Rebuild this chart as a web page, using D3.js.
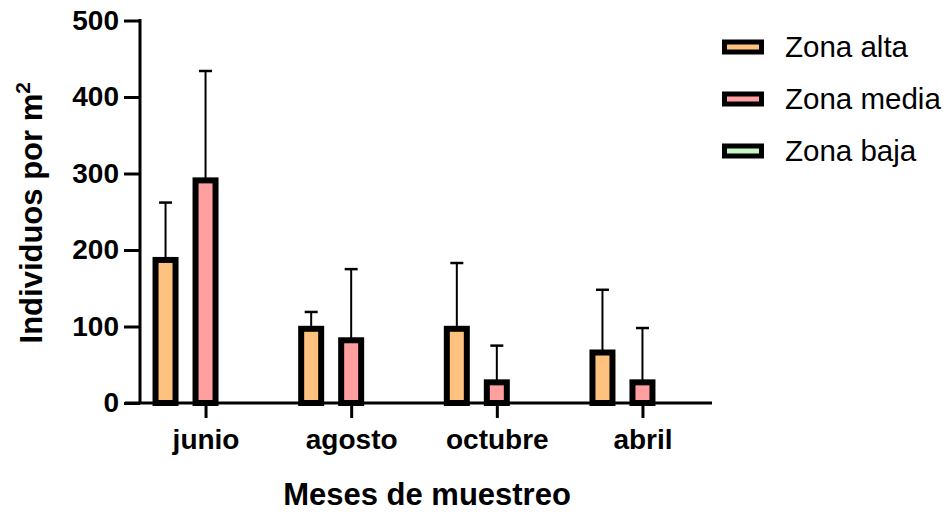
<!DOCTYPE html>
<html>
<head>
<meta charset="utf-8">
<script src="https://cdn.jsdelivr.net/npm/d3@7"></script>
<style>
  html, body { margin: 0; padding: 0; background: #fff; }
  svg { display: block; font-family: "Liberation Sans", Arial, sans-serif; }
</style>
</head>
<body>
<svg id="chart" width="949" height="514"></svg>
<script>
// ---- data ----
const months = ["junio", "agosto", "octubre", "abril"];
const seriesNames = ["Zona alta", "Zona media", "Zona baja"];
const zonaAlta = [187, 97, 97, 66];
const zonaAltaErr = [75, 22, 86, 82];
const zonaMedia = [291, 82, 27, 27];
const zonaMediaErr = [143, 93, 48, 71];
const zonaBaja = [0, 0, 0, 0];
const zonaBajaErr = [0, 0, 0, 0];
const yTicks = [0, 100, 200, 300, 400, 500];
const colors = ["#FFC17E", "#FF9F9F", "#C8F5C6"];

const seriesVals = [zonaAlta, zonaMedia, zonaBaja];
const seriesErr = [zonaAltaErr, zonaMediaErr, zonaBajaErr];

// ---- layout ----
const svg = d3.select("#chart");
const yAxisX = 140, xAxisY = 403, yTop = 20.5;
const xLineStart = 125, xLineEnd = 712;

const y = d3.scaleLinear().domain([0, 500]).range([xAxisY, yTop]);
const x = d3.scalePoint().domain(months).range([yAxisX, 708]).padding(0.45);
const sub = d3.scalePoint().domain(seriesNames).range([-40, 40]);
const barW = 20, barStroke = 6;

// bars
const data = [];
seriesNames.forEach((s, si) => {
  months.forEach((m, mi) => {
    data.push({ s, si, m, v: seriesVals[si][mi], e: seriesErr[si][mi] });
  });
});
const shown = data.filter(d => d.v > 0);

const g = svg.append("g");
// error bars
g.selectAll("line.err").data(shown).join("line")
  .attr("x1", d => x(d.m) + sub(d.s)).attr("x2", d => x(d.m) + sub(d.s))
  .attr("y1", d => y(d.v)).attr("y2", d => y(d.v + d.e))
  .attr("stroke", "#000").attr("stroke-width", 2);
g.selectAll("line.cap").data(shown).join("line")
  .attr("x1", d => x(d.m) + sub(d.s) - 6.5).attr("x2", d => x(d.m) + sub(d.s) + 6.5)
  .attr("y1", d => y(d.v + d.e)).attr("y2", d => y(d.v + d.e))
  .attr("stroke", "#000").attr("stroke-width", 2.5);

g.selectAll("rect.bar").data(shown).join("rect")
  .attr("x", d => x(d.m) + sub(d.s) - barW / 2)
  .attr("y", d => y(d.v))
  .attr("width", barW)
  .attr("height", d => y(0) - y(d.v))
  .attr("fill", d => colors[d.si])
  .attr("stroke", "#000").attr("stroke-width", barStroke);

// y axis
const yAxis = svg.append("g").attr("transform", `translate(${yAxisX},0)`)
  .call(d3.axisLeft(y).tickValues(yTicks).tickSize(16).tickSizeOuter(0).tickPadding(5));
yAxis.select(".domain").attr("stroke-width", 3).attr("d", `M0,${yTop - 1.5}V${xAxisY}`);
yAxis.selectAll(".tick line").attr("stroke-width", 3);
yAxis.selectAll(".tick text").attr("font-size", 28).attr("font-weight", "bold")
  .attr("fill", "#000").attr("font-family", "Liberation Sans, Arial, sans-serif");

// x axis
const xAxis = svg.append("g").attr("transform", `translate(0,${xAxisY})`)
  .call(d3.axisBottom(x).tickSize(15).tickSizeOuter(0).tickPadding(11));
xAxis.select(".domain").remove();
xAxis.append("line").attr("x1", xLineStart).attr("x2", xLineEnd)
  .attr("y1", 0).attr("y2", 0).attr("stroke", "#000").attr("stroke-width", 3);
xAxis.selectAll(".tick line").attr("stroke-width", 3);
xAxis.selectAll(".tick text").attr("font-size", 28).attr("font-weight", "bold")
  .attr("fill", "#000").attr("font-family", "Liberation Sans, Arial, sans-serif");

// axis titles
svg.append("text").attr("x", (x(months[0]) + x(months[3])) / 2 + 3).attr("y", 505)
  .attr("text-anchor", "middle").attr("font-size", 31).attr("font-weight", "bold")
  .text("Meses de muestreo");

const yt = svg.append("text")
  .attr("transform", `translate(42,${(yTop + xAxisY) / 2 + 1}) rotate(-90)`)
  .attr("text-anchor", "middle").attr("font-size", 31).attr("font-weight", "bold");
yt.append("tspan").text("Individuos por m");
yt.append("tspan").attr("font-size", 21).attr("dy", -12).text("2");

// legend
const legend = svg.append("g");
const leg = legend.selectAll("g").data(seriesNames).join("g")
  .attr("transform", (d, i) => `translate(722,${47 + i * 52})`);
leg.append("rect").attr("x", 2.5).attr("y", -5).attr("width", 37).attr("height", 10)
  .attr("fill", (d, i) => colors[i]).attr("stroke", "#000").attr("stroke-width", 5);
leg.append("text").attr("x", 63).attr("y", 0).attr("dy", "0.35em")
  .attr("font-size", 29.5).text(d => d);
</script>
</body>
</html>
